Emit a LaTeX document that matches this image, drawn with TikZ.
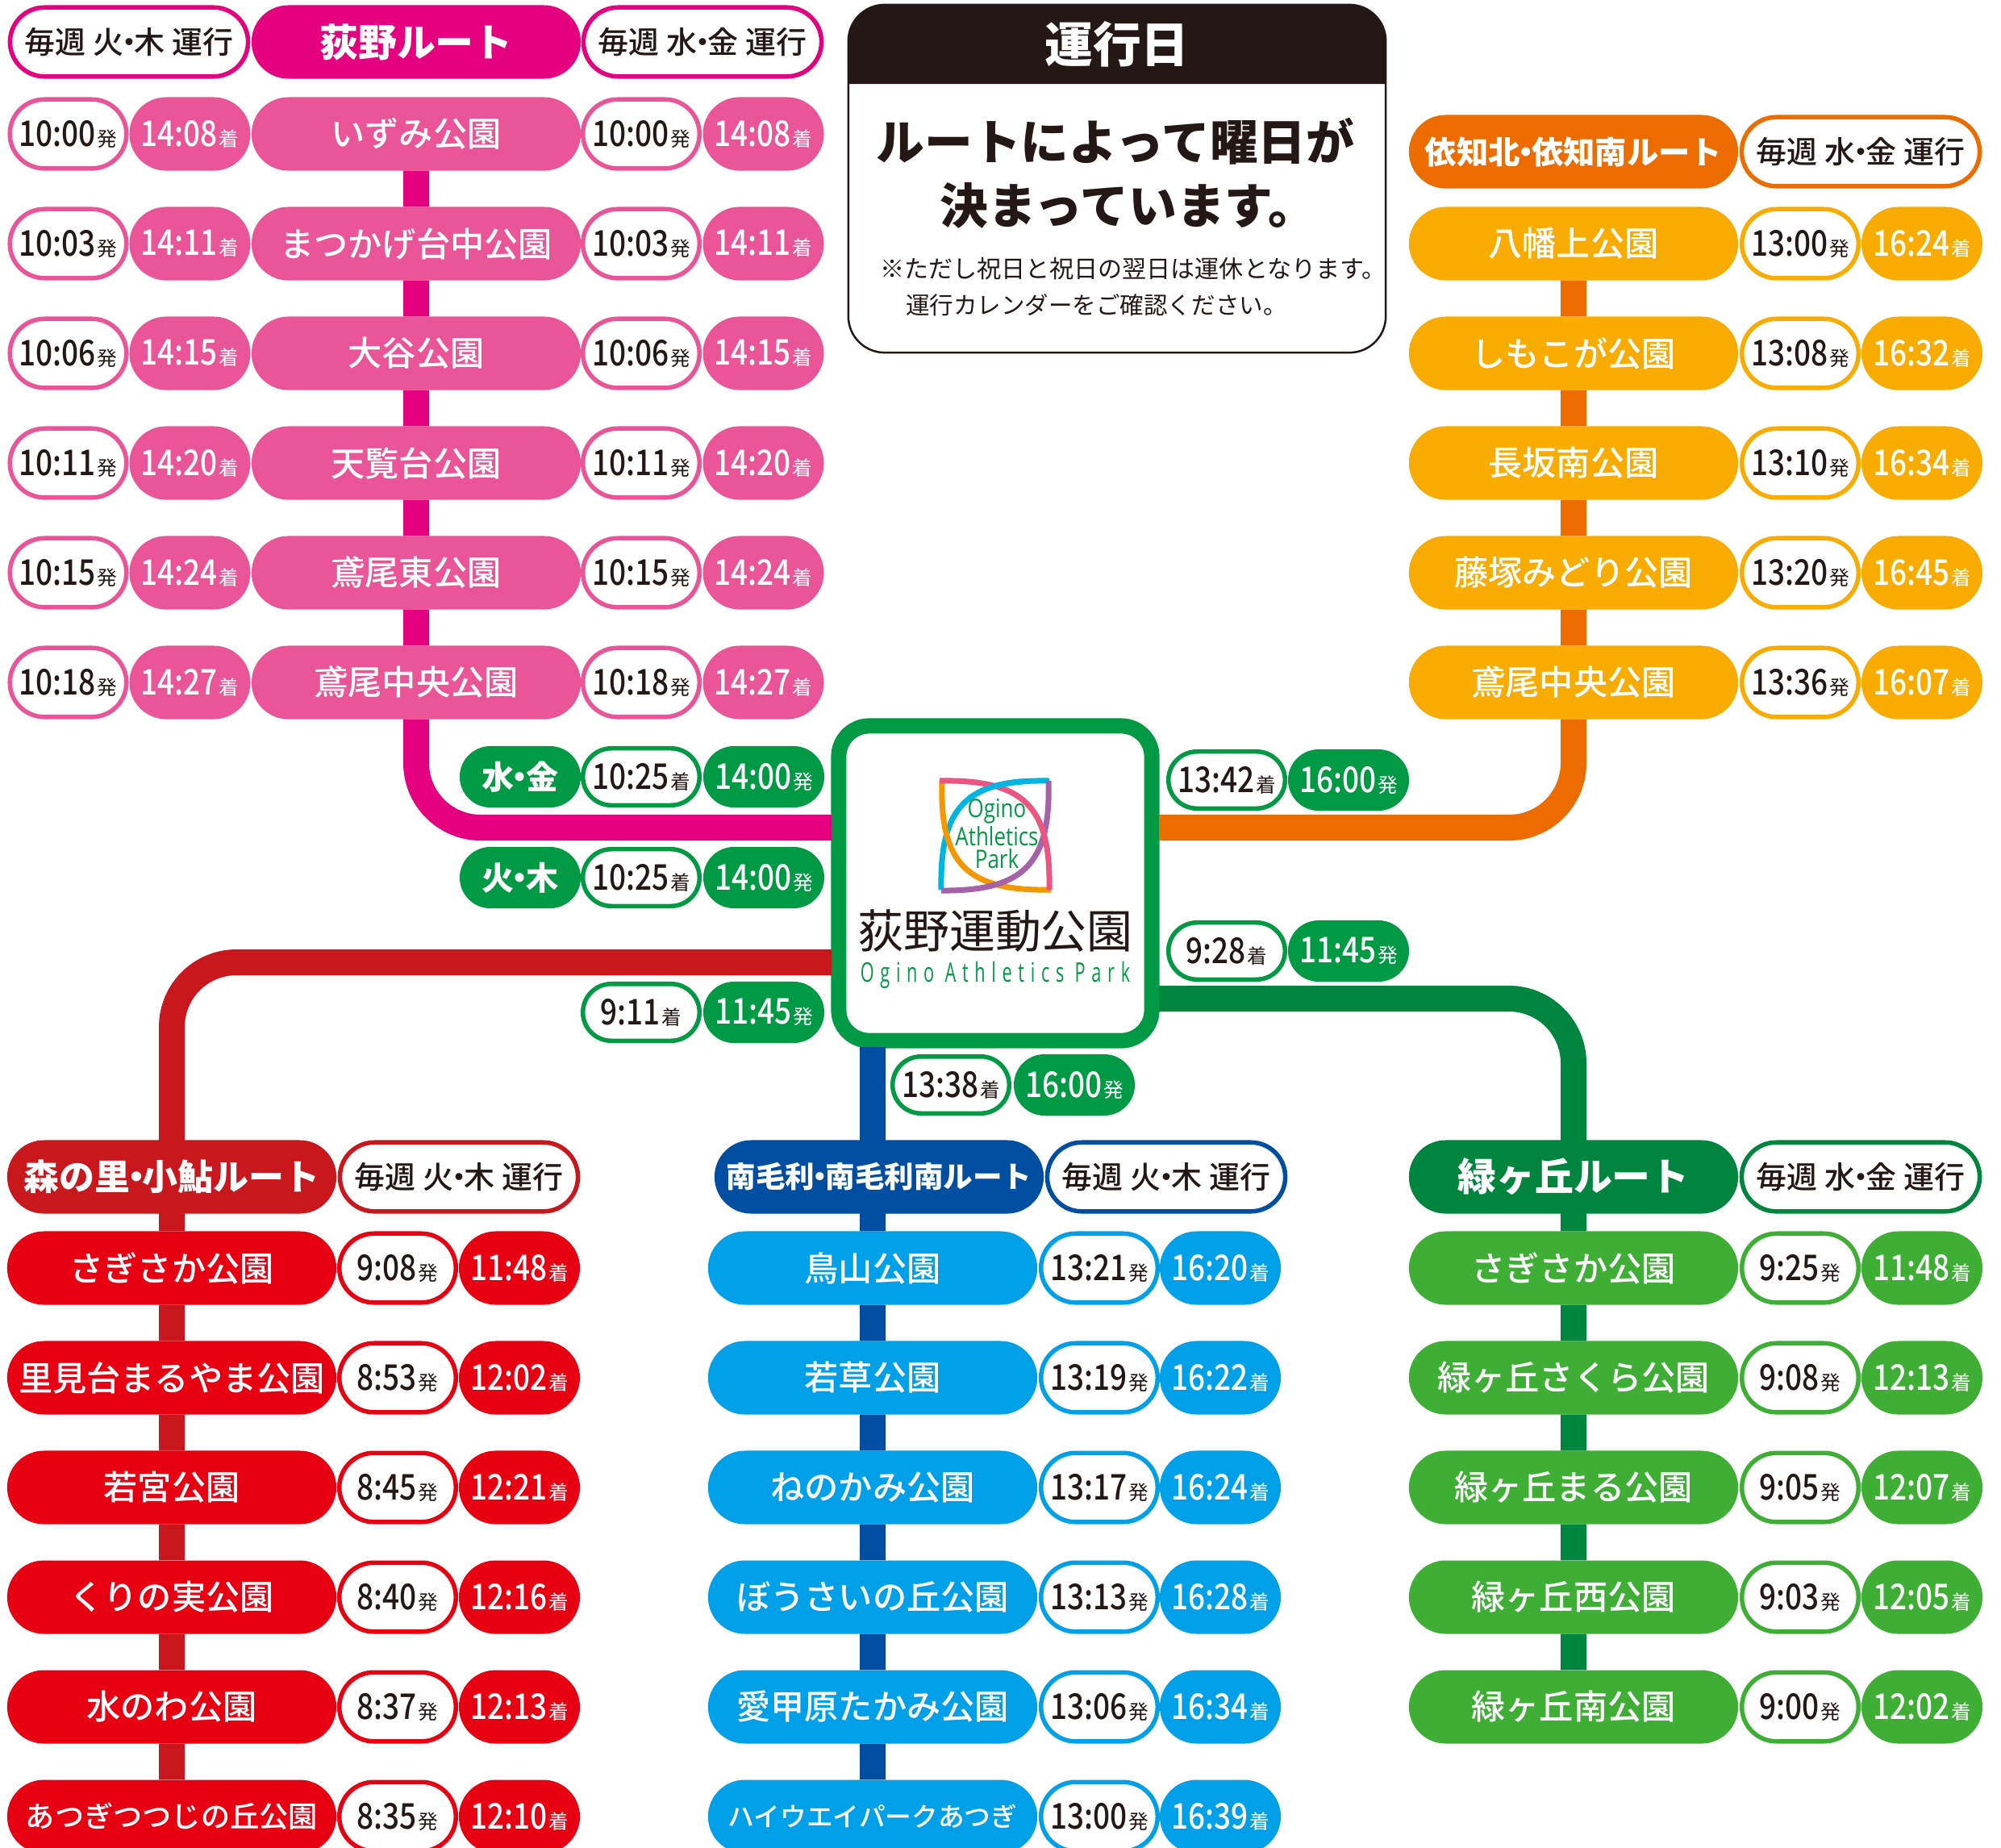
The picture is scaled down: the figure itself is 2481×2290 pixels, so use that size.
\documentclass[tikz,border=0pt]{standalone}
\usepackage{fontspec}
\setmainfont{Noto Sans CJK JP}
\newfontfamily\cjkmed{Noto Sans CJK JP Medium}
\newfontfamily\timefont[FakeStretch=0.84]{Noto Sans CJK JP Medium}
\newfontfamily\logofont[FakeStretch=0.82]{Open Sans}
\newfontfamily\logowide[FakeStretch=0.65,LetterSpace=23]{Open Sans}
\usetikzlibrary{shapes.misc}

\definecolor{pinkhead}{HTML}{E4007F}
\definecolor{pinkpill}{HTML}{EA5598}
\definecolor{orangehead}{HTML}{ED6C00}
\definecolor{orangepill}{HTML}{F8AB00}
\definecolor{redhead}{HTML}{C9171E}
\definecolor{redpill}{HTML}{E60012}
\definecolor{bluehead}{HTML}{004EA2}
\definecolor{bluepill}{HTML}{00A0E9}
\definecolor{greenhead}{HTML}{00853F}
\definecolor{greenpill}{HTML}{3EAE35}
\definecolor{hubgreen}{HTML}{009944}
\definecolor{noteblack}{HTML}{231815}
\definecolor{logopink}{HTML}{EA5581}
\definecolor{logoblue}{HTML}{00B5E2}
\definecolor{logoorange}{HTML}{F39800}
\definecolor{logopurple}{HTML}{A662A8}

\newcommand{\fs}[1]{\fontsize{#1pt}{#1pt}\selectfont}
\newcommand{\tm}[2]{\raisebox{-.7pt}{{\timefont\fs{12.5}#1}{\hspace{.5pt}\fs{7}#2}}}
\newcommand{\nmt}[1]{\raisebox{-.4pt}{#1}}
\newcommand{\dotc}{\hspace{-.32em}・\hspace{-.32em}}

\tikzset{
	pillbase/.style={rounded rectangle, inner sep=0pt, outer sep=0pt, text=white},
	namebox/.style={pillbase, fill=#1, minimum width=4.08cm, minimum height=.91cm, font=\cjkmed\fs{12}},
	headbox/.style={pillbase, fill=#1, minimum width=4.08cm, minimum height=.91cm, font=\bfseries},
	dayring/.style={pillbase, fill=white, draw=#1, line width=.055cm, text=noteblack, minimum width=2.95cm, minimum height=.855cm, font=\cjkmed\fs{10.8}},
	timefill/.style={pillbase, fill=#1, minimum width=1.5cm, minimum height=.91cm},
	timering/.style={pillbase, fill=white, draw=#1, line width=.055cm, text=noteblack, minimum width=1.445cm, minimum height=.855cm},
	hubfill/.style={timefill=hubgreen, minimum height=.76cm},
	hubring/.style={timering=hubgreen, minimum height=.705cm},
	routeline/.style={line width=.32cm, rounded corners=.8cm, draw=#1},
	logoarc/.style={line width=.07cm, draw=#1},
	plaintext/.style={inner sep=0pt, outer sep=0pt}
}

\begin{document}
\begin{tikzpicture}[x=.01cm, y=-.01cm]
	\useasboundingbox (0,0) rectangle (2481,2290);

	%center box
	\node[rectangle, rounded corners=.38cm, draw=hubgreen, fill=white, line width=.19cm, minimum width=3.88cm, minimum height=3.9cm, inner sep=0pt, outer sep=0pt] (hub) at (1234,1095) {};
	\coordinate (hubpink) at (1031,1026);
	\coordinate (hubred) at (1031,1193);
	\coordinate (huborange) at (1437,1026);
	\coordinate (hubgreenr) at (1437,1238);
	\coordinate (hubblue) at (1082,1298);

	%logo
	\draw[logoarc=logoblue] (1301,968) .. controls (1198,966) and (1165,1000) .. (1167,1103);
	\draw[logoarc=logoorange] (1168,968) .. controls (1165,1070) and (1198,1105) .. (1303,1103);
	\draw[logoarc=logopurple] (1300,968) .. controls (1303,1070) and (1270,1105) .. (1167,1104);
	\draw[logoarc=logopink] (1165,968) .. controls (1270,966) and (1303,1000) .. (1301,1103);
	\begin{scope}
		\clip (1200,950) rectangle (1270,990);
		\draw[logoarc=logoblue] (1301,968) .. controls (1198,966) and (1165,1000) .. (1167,1103);
	\end{scope}
	\node[plaintext, text=hubgreen, font=\logofont\fs{9}] (logoa) at (1236,1006) {Ogino};
	\node[plaintext, text=hubgreen, font=\logofont\fs{9}] (logob) at (1236,1037) {Athletics};
	\node[plaintext, text=hubgreen, font=\logofont\fs{9}] (logoc) at (1236,1065) {Park};
	\node[plaintext, text=noteblack, font=\fs{16.2}] (hubname) at (1234,1154) {荻野運動公園};
	\node[plaintext, text=hubgreen, font=\logowide\fs{9.5}] (hubnameen) at (1234,1209) {Ogino Athletics Park};

	%stations
	\foreach \id/\rowy/\nm/\tda/\taa/\tdb/\tab in {
		1/166/いずみ公園/10:00/14:08/10:00/14:08,
		2/302/まつかげ台中公園/10:03/14:11/10:03/14:11,
		3/438/大谷公園/10:06/14:15/10:06/14:15,
		4/574/天覧台公園/10:11/14:20/10:11/14:20,
		5/710/鳶尾東公園/10:15/14:24/10:15/14:24,
		6/846/鳶尾中央公園/10:18/14:27/10:18/14:27%
	}{
		\node[namebox=pinkpill] (pink\id) at (516,\rowy) {\nmt{\nm}};
		\node[timering=pinkpill] (pinkda\id) at (84.5,\rowy) {\tm{\tda}{発}};
		\node[timefill=pinkpill] (pinkaa\id) at (235.5,\rowy) {\tm{\taa}{着}};
		\node[timering=pinkpill] (pinkdb\id) at (795,\rowy) {\tm{\tdb}{発}};
		\node[timefill=pinkpill] (pinkab\id) at (946.5,\rowy) {\tm{\tab}{着}};
	}
	\foreach \id/\rowy/\nm/\td/\ta in {
		1/302/八幡上公園/13:00/16:24,
		2/438/しもこが公園/13:08/16:32,
		3/574/長坂南公園/13:10/16:34,
		4/710/藤塚みどり公園/13:20/16:45,
		5/846/鳶尾中央公園/13:36/16:07%
	}{
		\node[namebox=orangepill] (orange\id) at (1951,\rowy) {\nmt{\nm}};
		\node[timering=orangepill] (oranged\id) at (2232,\rowy) {\tm{\td}{発}};
		\node[timefill=orangepill] (orangea\id) at (2383,\rowy) {\tm{\ta}{着}};
	}
	\foreach \id/\rowy/\nm/\td/\ta in {
		1/1572/さぎさか公園/9:08/11:48,
		2/1708/里見台まるやま公園/8:53/12:02,
		3/1844/若宮公園/8:45/12:21,
		4/1980/くりの実公園/8:40/12:16,
		5/2116/水のわ公園/8:37/12:13,
		6/2252/{\fs{10.3}あつぎつつじの丘公園}/8:35/12:10%
	}{
		\node[namebox=redpill] (red\id) at (213,\rowy) {\nmt{\nm}};
		\node[timering=redpill] (redd\id) at (493,\rowy) {\tm{\td}{発}};
		\node[timefill=redpill] (reda\id) at (644,\rowy) {\tm{\ta}{着}};
	}
	\foreach \id/\rowy/\nm/\td/\ta in {
		1/1572/鳥山公園/13:21/16:20,
		2/1708/若草公園/13:19/16:22,
		3/1844/ねのかみ公園/13:17/16:24,
		4/1980/ぼうさいの丘公園/13:13/16:28,
		5/2116/愛甲原たかみ公園/13:06/16:34,
		6/2252/{\fs{9.3}ハイウエイパークあつぎ}/13:00/16:39%
	}{
		\node[namebox=bluepill] (blue\id) at (1082,\rowy) {\nmt{\nm}};
		\node[timering=bluepill] (blued\id) at (1363,\rowy) {\tm{\td}{発}};
		\node[timefill=bluepill] (bluea\id) at (1513,\rowy) {\tm{\ta}{着}};
	}
	\foreach \id/\rowy/\nm/\td/\ta in {
		1/1572/さぎさか公園/9:25/11:48,
		2/1708/緑ヶ丘さくら公園/9:08/12:13,
		3/1844/緑ヶ丘まる公園/9:05/12:07,
		4/1980/緑ヶ丘西公園/9:03/12:05,
		5/2116/緑ヶ丘南公園/9:00/12:02%
	}{
		\node[namebox=greenpill] (green\id) at (1951,\rowy) {\nmt{\nm}};
		\node[timering=greenpill] (greend\id) at (2232,\rowy) {\tm{\td}{発}};
		\node[timefill=greenpill] (greena\id) at (2383,\rowy) {\tm{\ta}{着}};
	}

	%route lines
	\foreach \a/\b in {1/2,2/3,3/4,4/5,5/6}{
		\draw[routeline=pinkhead] (pink\a) -- (pink\b);
		\draw[routeline=redhead] (red\a) -- (red\b);
		\draw[routeline=bluehead] (blue\a) -- (blue\b);
	}
	\foreach \a/\b in {1/2,2/3,3/4,4/5}{
		\draw[routeline=orangehead] (orange\a) -- (orange\b);
		\draw[routeline=greenhead] (green\a) -- (green\b);
	}
	\draw[routeline=pinkhead] (pink6) |- (hubpink);
	\draw[routeline=orangehead] (orange5) |- (huborange);
	\draw[routeline=redhead] (red1) |- (hubred);
	\draw[routeline=greenhead] (green1) |- (hubgreenr);
	\draw[routeline=bluehead] (hubblue) -- (blue1);

	%route headers
	\node[headbox=pinkhead, font=\bfseries\fs{13.6}] (pinkhd) at (516,52) {荻野ルート};
	\node[dayring=pinkhead] (pinkdaya) at (160,52) {毎週 火\dotc 木 運行};
	\node[dayring=pinkhead] (pinkdayb) at (871,52) {毎週 水\dotc 金 運行};
	\node[headbox=orangehead, font=\bfseries\fs{11.2}] (orangehd) at (1951,188) {依知北\dotc 依知南ルート};
	\node[dayring=orangehead] (orangeday) at (2307,188) {毎週 水\dotc 金 運行};
	\node[headbox=redhead, font=\bfseries\fs{12.5}] (redhd) at (213,1459) {森の里\dotc 小鮎ルート};
	\node[dayring=redhead] (redday) at (569,1459) {毎週 火\dotc 木 運行};
	\node[headbox=bluehead, font=\bfseries\fs{10.4}] (bluehd) at (1090,1459) {南毛利\dotc 南毛利南ルート};
	\node[dayring=bluehead] (blueday) at (1446,1459) {毎週 火\dotc 木 運行};
	\node[headbox=greenhead, font=\bfseries\fs{13.6}] (greenhd) at (1951,1459) {緑ヶ丘ルート};
	\node[dayring=greenhead] (greenday) at (2307,1459) {毎週 水\dotc 金 運行};

	%hub times
	\node[hubfill, font=\bfseries\fs{11.4}] (daysa) at (645,963) {水\dotc 金};
	\node[hubring] (hubdepa) at (795,963) {\tm{10:25}{着}};
	\node[hubfill] (hubarra) at (947,963) {\tm{14:00}{発}};
	\node[hubfill, font=\bfseries\fs{11.4}] (daysb) at (645,1088) {火\dotc 木};
	\node[hubring] (hubdepb) at (795,1088) {\tm{10:25}{着}};
	\node[hubfill] (hubarrb) at (947,1088) {\tm{14:00}{発}};
	\node[hubring] (hubdepc) at (795,1255) {\tm{9:11}{着}};
	\node[hubfill] (hubarrc) at (947,1255) {\tm{11:45}{発}};
	\node[hubring] (hubdepd) at (1179,1345) {\tm{13:38}{着}};
	\node[hubfill] (hubarrd) at (1332,1345) {\tm{16:00}{発}};
	\node[hubring] (hubdepe) at (1521,967) {\tm{13:42}{着}};
	\node[hubfill] (hubarre) at (1672,967) {\tm{16:00}{発}};
	\node[hubring] (hubdepf) at (1521,1179) {\tm{9:28}{着}};
	\node[hubfill] (hubarrf) at (1672,1179) {\tm{11:45}{発}};

	%notice
	\node[rectangle, rounded corners=.45cm, draw=noteblack, line width=.025cm, minimum width=6.66cm, minimum height=4.31cm, inner sep=0pt, outer sep=0pt] (notebox) at (1385,221.5) {};
	\fill[noteblack] (1052,104) [rounded corners=.45cm] -- (1052,6) -- (1718,6) [sharp corners] -- (1718,104) -- cycle;
	\node[plaintext, text=white, font=\bfseries\fs{17}] (notetitle) at (1385,55) {運行日};
	\node[plaintext, text=noteblack, font=\bfseries\fs{17}] (notea) at (1383,175) {ルートによって曜日が};
	\node[plaintext, text=noteblack, font=\bfseries\fs{17}] (noteb) at (1399,255) {決まっています。};
	\node[plaintext, text=noteblack, font=\fs{8.55}, anchor=west] (notec) at (1091,333) {※ただし祝日と祝日の翌日は運休となります。};
	\node[plaintext, text=noteblack, font=\fs{8.4}, anchor=west] (noted) at (1123,378) {運行カレンダーをご確認ください。};
\end{tikzpicture}
\end{document}
